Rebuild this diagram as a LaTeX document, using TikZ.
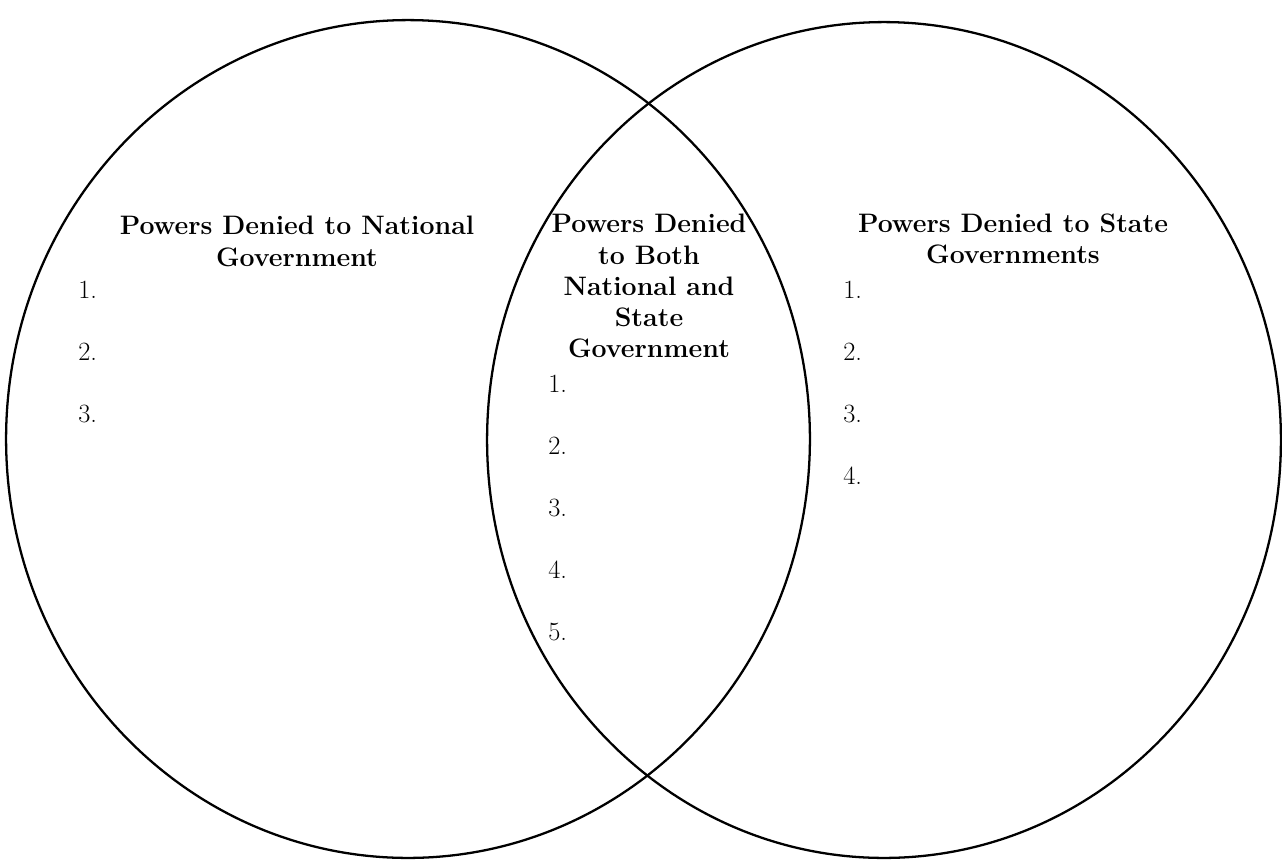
\documentclass[tikz,border=0pt]{standalone}
\usepackage{tikz}
\usetikzlibrary{shapes.geometric}
\tikzstyle{region} = [ellipse, draw, line width=1.3pt, inner sep=0pt]
\tikzstyle{heading} = [align=center, inner sep=0pt, anchor=north,
font=\fontsize{15.2}{17.8}\selectfont\bfseries]
\tikzstyle{item} = [inner sep=0pt, node distance=1.24cm, font=\fontsize{15}{17}\selectfont]

\begin{document}
\begin{tikzpicture}[x=0.02cm,y=-0.02cm]
        \useasboundingbox (0,0) rectangle (1282,860);

        % the two circles
        \node (national) [region, minimum width=16.08cm, minimum height=16.76cm] at (408,439) {};
        \node (state)    [region, minimum width=15.88cm, minimum height=16.72cm] at (884,440) {};

        % headings
        \node (hnational) [heading] at (297,216) {Powers Denied to National\\Government};
        \node (hboth)     [heading] at (649,214) {Powers Denied\\to Both\\National and\\State\\Government};
        \node (hstate)    [heading] at (1013,213) {Powers Denied to State\\Governments};

        % national list
        \node (n1) [item, anchor=west] at (78,290) {1.};
        \node (n2) [item, below of=n1] {2.};
        \node (n3) [item, below of=n2] {3.};

        % both list
        \node (b1) [item, anchor=west] at (548,384) {1.};
        \node (b2) [item, below of=b1] {2.};
        \node (b3) [item, below of=b2] {3.};
        \node (b4) [item, below of=b3] {4.};
        \node (b5) [item, below of=b4] {5.};

        % state list
        \node (s1) [item, anchor=west] at (843,290) {1.};
        \node (s2) [item, below of=s1] {2.};
        \node (s3) [item, below of=s2] {3.};
        \node (s4) [item, below of=s3] {4.};

\end{tikzpicture}
\end{document}
